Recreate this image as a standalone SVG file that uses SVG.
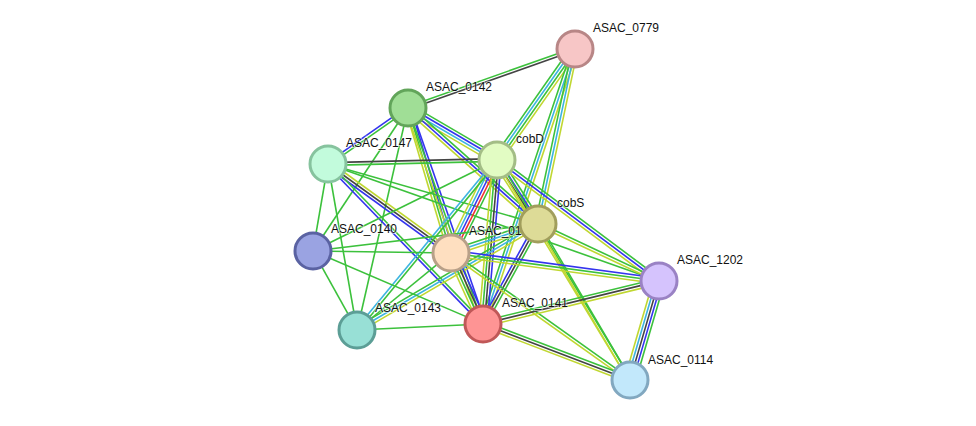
<svg xmlns="http://www.w3.org/2000/svg" width="976" height="426" viewBox="0 0 976 426">
<style>
.g{stroke:#3cc13c}.y{stroke:#c0d731}.b{stroke:#3434ee}.c{stroke:#3cb4e0}.k{stroke:#444}.r{stroke:#f03232}
circle{stroke-width:3}
text{font-family:"Liberation Sans",Arial,sans-serif;font-size:12px;fill:#111;stroke:#fff;stroke-width:2;stroke-opacity:0.5;paint-order:stroke}
</style>
<rect width="976" height="426" fill="#fff"/>
<g id="edges" fill="none" stroke-width="1.6">
<g transform="translate(408 108) rotate(-19.46)"><path class="g" d="M0 -1.4H177"/><path class="k" d="M0 1.4H177"/></g>
<g transform="translate(497 160) rotate(-54.9)"><path class="g" d="M0 -4.2H136"/><path class="c" d="M0 -1.4H136"/><path class="g" d="M0 1.4H136"/><path class="y" d="M0 4.2H136"/></g>
<g transform="translate(483 324) rotate(-71.5)"><path class="g" d="M0 -2.8H290"/><path class="c" d="M0 0H290"/><path class="y" d="M0 2.8H290"/></g>
<g transform="translate(538 224) rotate(-78.06)"><path class="g" d="M0 -2.8H179"/><path class="c" d="M0 0H179"/><path class="y" d="M0 2.8H179"/></g>
<g transform="translate(328 164) rotate(-35)"><path class="b" d="M0 -1.4H98"/><path class="g" d="M0 1.4H98"/></g>
<g transform="translate(408 108) rotate(30.3)"><path class="g" d="M0 -4.2H103"/><path class="b" d="M0 -1.4H103"/><path class="c" d="M0 1.4H103"/><path class="y" d="M0 4.2H103"/></g>
<g transform="translate(408 108) rotate(41.7)"><path class="g" d="M0 -2.8H174"/><path class="b" d="M0 0H174"/><path class="y" d="M0 2.8H174"/></g>
<g transform="translate(408 108) rotate(73.5)"><path class="b" d="M0 -2.8H151"/><path class="g" d="M0 0H151"/><path class="y" d="M0 2.8H151"/></g>
<g transform="translate(408 108) rotate(70.85)"><path class="b" d="M0 -2.8H229"/><path class="g" d="M0 0H229"/><path class="y" d="M0 2.8H229"/></g>
<g transform="translate(408 108) rotate(123.6)"><path class="g" d="M0 0H172"/></g>
<g transform="translate(408 108) rotate(102.9)"><path class="g" d="M0 0H228"/></g>
<g transform="translate(328 164) rotate(-1.36)"><path class="k" d="M0 -1.4H169"/><path class="g" d="M0 1.4H169"/></g>
<g transform="translate(328 164) rotate(35.9)"><path class="y" d="M0 -2.8H152"/><path class="k" d="M0 0H152"/><path class="b" d="M0 2.8H152"/></g>
<g transform="translate(328 164) rotate(45.9)"><path class="g" d="M0 -1.4H223"/><path class="b" d="M0 1.4H223"/></g>
<g transform="translate(328 164) rotate(99.8)"><path class="g" d="M0 0H88"/></g>
<g transform="translate(328 164) rotate(80.1)"><path class="g" d="M0 0H169"/></g>
<g transform="translate(328 164) rotate(15.95)"><path class="g" d="M0 0H218"/></g>
<g transform="translate(328 164) rotate(19.47)"><path class="g" d="M0 0H351"/></g>
<g transform="translate(497 160) rotate(57.4)"><path class="g" d="M0 -4.2H76"/><path class="b" d="M0 -1.4H76"/><path class="k" d="M0 1.4H76"/><path class="y" d="M0 4.2H76"/></g>
<g transform="translate(497 160) rotate(116.3)"><path class="g" d="M0 -5.6H104"/><path class="r" d="M0 -2.8H104"/><path class="b" d="M0 0H104"/><path class="c" d="M0 2.8H104"/><path class="y" d="M0 5.6H104"/></g>
<g transform="translate(497 160) rotate(94.9)"><path class="b" d="M0 -4.2H165"/><path class="k" d="M0 -1.4H165"/><path class="g" d="M0 1.4H165"/><path class="y" d="M0 4.2H165"/></g>
<g transform="translate(313 251) rotate(-26.3)"><path class="g" d="M0 0H205"/></g>
<g transform="translate(357 330) rotate(-50.5)"><path class="c" d="M0 -1.4H220"/><path class="g" d="M0 1.4H220"/></g>
<g transform="translate(497 160) rotate(36.8)"><path class="g" d="M0 -2.8H202"/><path class="b" d="M0 0H202"/><path class="y" d="M0 2.8H202"/></g>
<g transform="translate(497 160) rotate(58.85)"><path class="g" d="M0 -1.4H257"/><path class="y" d="M0 1.4H257"/></g>
<g transform="translate(538 224) rotate(59.5)"><path class="g" d="M0 -1.4H181"/><path class="y" d="M0 1.4H181"/></g>
<g transform="translate(538 224) rotate(25.2)"><path class="g" d="M0 -1.4H134"/><path class="y" d="M0 1.4H134"/></g>
<g transform="translate(483 324) rotate(-61.2)"><path class="b" d="M0 -2.8H114"/><path class="k" d="M0 0H114"/><path class="g" d="M0 2.8H114"/></g>
<g transform="translate(451 253) rotate(-18.4)"><path class="g" d="M0 -2.8H92"/><path class="c" d="M0 0H92"/><path class="y" d="M0 2.8H92"/></g>
<g transform="translate(357 330) rotate(-30.35)"><path class="g" d="M0 -2.8H210"/><path class="c" d="M0 0H210"/><path class="y" d="M0 2.8H210"/></g>
<g transform="translate(313 251) rotate(-6.84)"><path class="g" d="M0 0H227"/></g>
<g transform="translate(313 251) rotate(0.83)"><path class="g" d="M0 0H138"/></g>
<g transform="translate(313 251) rotate(23.2)"><path class="g" d="M0 0H185"/></g>
<g transform="translate(313 251) rotate(60.9)"><path class="g" d="M0 0H90"/></g>
<g transform="translate(357 330) rotate(-2.73)"><path class="g" d="M0 0H126"/></g>
<g transform="translate(357 330) rotate(-39.3)"><path class="g" d="M0 0H122"/></g>
<g transform="translate(451 253) rotate(65.7)"><path class="b" d="M0 -4.2H78"/><path class="k" d="M0 -1.4H78"/><path class="g" d="M0 1.4H78"/><path class="y" d="M0 4.2H78"/></g>
<g transform="translate(451 253) rotate(7.67)"><path class="b" d="M0 -2.8H210"/><path class="g" d="M0 0H210"/><path class="y" d="M0 2.8H210"/></g>
<g transform="translate(451 253) rotate(35.4)"><path class="g" d="M0 -1.4H220"/><path class="y" d="M0 1.4H220"/></g>
<g transform="translate(483 324) rotate(-13.7)"><path class="g" d="M0 -2.8H181"/><path class="k" d="M0 0H181"/><path class="y" d="M0 2.8H181"/></g>
<g transform="translate(483 324) rotate(20.85)"><path class="g" d="M0 -2.8H157"/><path class="k" d="M0 0H157"/><path class="y" d="M0 2.8H157"/></g>
<g transform="translate(659 281) rotate(106.3)"><path class="g" d="M0 -5.6H103"/><path class="b" d="M0 -2.8H103"/><path class="k" d="M0 0H103"/><path class="c" d="M0 2.8H103"/><path class="y" d="M0 5.6H103"/></g>
</g>
<g id="ASAC_0779"><circle cx="575" cy="49" r="18" fill="#f7c6c6" stroke="#b88686"/><text x="593" y="32">ASAC_0779</text></g>
<g id="ASAC_0142"><circle cx="408" cy="108" r="18" fill="#a0de96" stroke="#62a55a"/><text x="426" y="91">ASAC_0142</text></g>
<g id="ASAC_0147"><circle cx="328" cy="164" r="18" fill="#c2fbdc" stroke="#86c39e"/><text x="346" y="147">ASAC_0147</text></g>
<g id="cobD"><circle cx="497" cy="160" r="18" fill="#e2fcc3" stroke="#a3bd86"/><text x="516" y="143">cobD</text></g>
<g id="ASAC_0140"><circle cx="313" cy="251" r="18" fill="#9aa3e2" stroke="#5a62a2"/><text x="331" y="233">ASAC_0140</text></g>
<g id="ASAC_01"><circle cx="451" cy="253" r="18" fill="#fedfc0" stroke="#b8a088"/><text x="469" y="235">ASAC_01</text></g>
<g id="cobS"><circle cx="538" cy="224" r="18" fill="#dddb97" stroke="#a19e5c"/><text x="557" y="207">cobS</text></g>
<g id="ASAC_1202"><circle cx="659" cy="281" r="18" fill="#d5c3fd" stroke="#9a82c4"/><text x="677" y="264">ASAC_1202</text></g>
<g id="ASAC_0143"><circle cx="357" cy="330" r="18" fill="#98e0d6" stroke="#5c9e96"/><text x="375" y="312">ASAC_0143</text></g>
<g id="ASAC_0141"><circle cx="483" cy="324" r="18" fill="#fe9494" stroke="#c05858"/><text x="502" y="307">ASAC_0141</text></g>
<g id="ASAC_0114"><circle cx="630" cy="380" r="18" fill="#c2e8fb" stroke="#82a8c0"/><text x="648" y="364">ASAC_0114</text></g>
</svg>
